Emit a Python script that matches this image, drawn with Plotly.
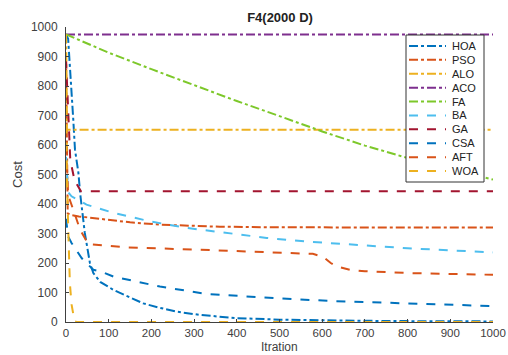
import plotly.graph_objects as go

title = "F4(2000 D)"
x_title = "Itration"
y_title = "Cost"
names = ["HOA", "PSO", "ALO", "ACO", "FA", "BA", "GA", "CSA", "AFT", "WOA"]

hoa_x = [0, 5, 17, 21, 29, 33, 44, 56, 64, 80, 111, 150, 181, 220, 259, 314, 360, 400, 500, 600, 700, 800, 900, 1000]
hoa_y = [975, 960, 687, 585, 506, 438, 302, 200, 166, 136, 109, 82, 63, 48, 35, 24, 18, 13, 8, 5, 4, 3, 3, 2]

pso_x = [0, 2, 4, 10, 30, 95, 150, 220, 300, 360, 500, 700, 1000]
pso_y = [900, 600, 368, 363, 358, 347, 338, 330, 325, 323, 321, 320, 320]

alo_x = [0, 2, 1000]
alo_y = [975, 652, 652]

aco_x = [0, 1000]
aco_y = [975, 975]

fa_x = [0, 100, 200, 300, 400, 500, 600, 700, 800, 900, 1000]
fa_y = [975, 913, 857, 803, 749, 698, 646, 598, 556, 518, 483]

ba_x = [0, 3, 5, 13, 48, 111, 197, 283, 314, 360, 470, 560, 665, 800, 900, 1000]
ba_y = [560, 460, 440, 426, 398, 370, 341, 319, 313, 304, 285, 273, 262, 250, 243, 236]

ga_x = [0, 5, 10, 20, 29, 35, 1000]
ga_y = [890, 700, 550, 480, 460, 443, 443]

csa_x = [0, 5, 13, 33, 37, 64, 80, 111, 220, 330, 360, 500, 626, 800, 1000]
csa_y = [350, 290, 268, 222, 216, 177, 172, 154, 120, 95, 92, 80, 71, 62, 54]

aft_x = [0, 5, 17, 33, 52, 142, 314, 360, 578, 602, 620, 634, 665, 700, 800, 1000]
aft_y = [600, 430, 381, 313, 264, 253, 245, 243, 231, 221, 200, 188, 177, 172, 166, 160]

woa_x = [0, 2, 5, 9, 13, 17, 20, 25, 1000]
woa_y = [975, 500, 330, 133, 60, 24, 2, 0, 0]

tick_vals = [0, 100, 200, 300, 400, 500, 600, 700, 800, 900, 1000]

series = [
    (hoa_x, hoa_y, "#0072BD", "dashdot"),
    (pso_x, pso_y, "#D95319", "dashdot"),
    (alo_x, alo_y, "#EDB120", "dashdot"),
    (aco_x, aco_y, "#7E2F8E", "dashdot"),
    (fa_x, fa_y, "#7DC82A", "dashdot"),
    (ba_x, ba_y, "#4DBEEE", "dash"),
    (ga_x, ga_y, "#A2142F", "dash"),
    (csa_x, csa_y, "#0072BD", "dash"),
    (aft_x, aft_y, "#D95319", "dash"),
    (woa_x, woa_y, "#EDB120", "dash"),
]

W, H = 508, 355
ML, MR, MT, MB = 66, 15, 27, 33
PW, PH = W - ML - MR, H - MT - MB


def fx(px):
    return (px - ML) / PW


def fy(py):
    return (H - MB - py) / PH


fig = go.Figure()
for name, (xs, ys, color, dash) in zip(names, series):
    fig.add_trace(go.Scatter(x=xs, y=ys, mode="lines", name=name, showlegend=False,
                             line=dict(color=color, width=2, dash=dash)))

# compact legend box (MATLAB style)
box_l, box_r, box_t, box_b = 406, 484, 35, 182
shapes = [dict(type="rect", xref="paper", yref="paper",
               x0=fx(box_l), x1=fx(box_r), y0=fy(box_b), y1=fy(box_t),
               fillcolor="white", line=dict(color="#333333", width=1), layer="above")]
annotations = []
row_h = (box_b - box_t - 8) / len(names)
for i, (name, (_, _, color, dash)) in enumerate(zip(names, series)):
    cy = box_t + 4 + row_h * (i + 0.5)
    shapes.append(dict(type="line", xref="paper", yref="paper",
                       x0=fx(box_l + 3), x1=fx(box_l + 40), y0=fy(cy), y1=fy(cy),
                       line=dict(color=color, width=2, dash=dash), layer="above"))
    annotations.append(dict(xref="paper", yref="paper", x=fx(box_l + 44), y=fy(cy),
                            text=name, showarrow=False, xanchor="left", yanchor="middle",
                            font=dict(size=11, color="#222222")))

# x-axis title placed at the very bottom, as in the reference
annotations.append(dict(xref="paper", yref="paper", x=0.5, y=fy(H - 0.5),
                        text=x_title, showarrow=False, xanchor="center", yanchor="bottom",
                        borderpad=0, font=dict(size=12, color="#404040")))

fig.update_layout(
    width=W, height=H,
    margin=dict(l=ML, r=MR, t=MT, b=MB),
    paper_bgcolor="white", plot_bgcolor="white",
    font=dict(family="Liberation Sans, Arial, sans-serif", size=12, color="#404040"),
    title=dict(text="<b>" + title + "</b>", x=fx(280), xref="paper", xanchor="center",
               yref="container", y=1 - 17.5 / H, yanchor="middle",
               font=dict(size=13, color="#222222")),
    showlegend=False,
    shapes=shapes,
    annotations=annotations,
    xaxis=dict(range=[0, 1000], tickvals=tick_vals, ticks="inside", ticklen=3,
               tickcolor="#404040", showline=True, linecolor="#404040", linewidth=1,
               showgrid=False, zeroline=False, mirror=False, automargin=False,
               ticklabelstandoff=0, tickfont=dict(size=11.5, color="#404040")),
    yaxis=dict(range=[0, 1000], tickvals=tick_vals, ticks="inside", ticklen=3,
               tickcolor="#404040", showline=True, linecolor="#404040", linewidth=1,
               showgrid=False, zeroline=False, mirror=False, automargin=False,
               ticklabelstandoff=5, tickfont=dict(size=12, color="#404040"),
               title=dict(text=y_title, standoff=5, font=dict(size=13, color="#404040"))),
)

fig.write_html("out.html", config={"displayModeBar": False},
               post_script="document.body.style.margin='0px';document.body.style.overflow='hidden';")
